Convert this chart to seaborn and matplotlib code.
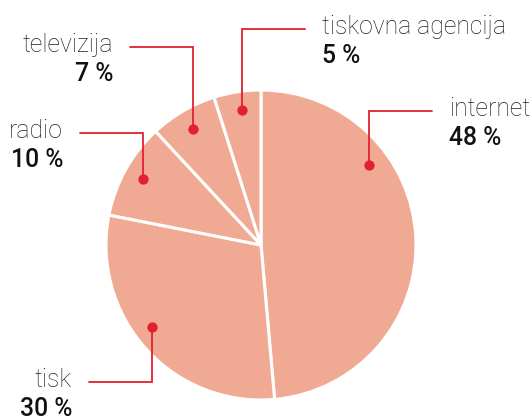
import numpy as np
import matplotlib
matplotlib.use("Agg")
import matplotlib.pyplot as plt
import seaborn as sns

categories = ["internet", "tisk", "radio", "televizija", "tiskovna agencija"]
values = [48.6, 29.5, 10.0, 7.0, 4.9]
pct_labels = ["48 %", "30 %", "10 %", "7 %", "5 %"]

sns.set_theme(style="white")
plt.rcParams['font.family'] = ['Roboto', 'DejaVu Sans']

W, H = 531, 416
fig = plt.figure(figsize=(W / 100, H / 100), dpi=100)
ax = fig.add_axes([0, 0, 1, 1])

fill = '#f0aa93'
red = '#e2202f'
cx, cy, R = 261, H - 245, 155

wedges, _ = ax.pie(values, colors=[fill] * len(values), startangle=90,
                   counterclock=False, center=(cx, cy), radius=R,
                   wedgeprops=dict(edgecolor='white', linewidth=2.2))
ax.set_xlim(0, W)
ax.set_ylim(0, H)
ax.set_aspect('equal')
ax.axis('off')

# layout: clockwise angle offset of dot from wedge mid, dot radial fraction, leader y (px), side
dot_off = [-34, 5, 0, 0, 1]
dot_frac = [0.867, 0.88, 0.87, 0.865, 0.88]
leader_y = [111, 382, 133, 47, 29]
side = [1, -1, -1, -1, 1]   # +1 text to right, -1 text to left
seg = 63
gap = 17

for i, w in enumerate(wedges):
    mid = 0.5 * (w.theta1 + w.theta2) - dot_off[i]
    a = np.deg2rad(mid)
    dx = cx + dot_frac[i] * R * np.cos(a)
    dy = cy + dot_frac[i] * R * np.sin(a)
    ly = H - leader_y[i]
    ex = dx + side[i] * seg
    ax.plot([dx, dx, ex], [dy, ly, ly], color=red, lw=1.3, solid_joinstyle='miter', zorder=3)
    ax.scatter([dx], [dy], s=55, color=red, zorder=4, linewidths=0)
    tx = ex + side[i] * gap
    ha = 'left' if side[i] > 0 else 'right'
    ax.text(tx, ly - 5, categories[i], ha=ha, va='baseline', fontsize=17.8,
            fontweight='light', color='#222222')
    ax.text(tx, ly - 34, pct_labels[i], ha=ha, va='baseline', fontsize=17.8,
            fontweight='medium', color='#111111')

fig.savefig('out.png', dpi=100)
